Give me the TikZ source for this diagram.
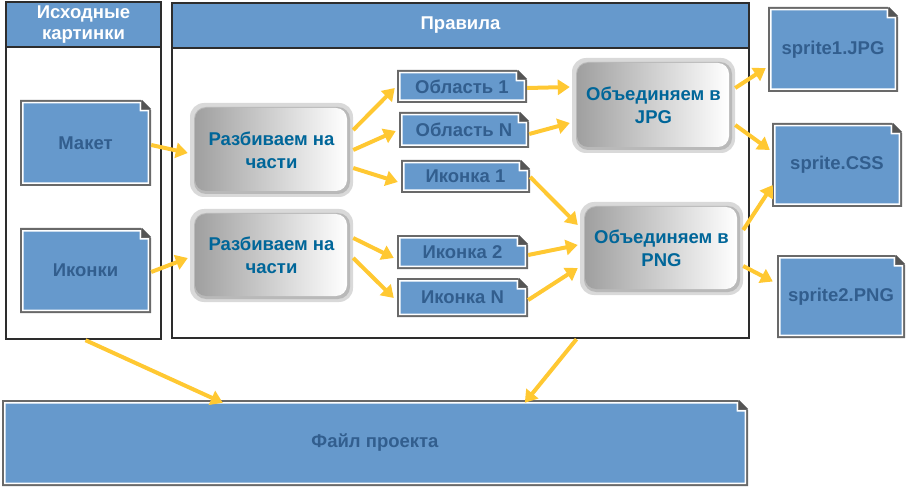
\documentclass[tikz,border=0pt]{standalone}
\usepackage{fontspec}
\setmainfont{Liberation Sans}
\usetikzlibrary{calc,arrows.meta}
\definecolor{docblue}{RGB}{102,153,204}
\definecolor{doctxt}{RGB}{50,94,142}
\definecolor{boxtxt}{RGB}{0,102,153}
\definecolor{arrowy}{RGB}{255,200,50}
\definecolor{edgegray}{RGB}{105,105,105}
\definecolor{foldgray}{RGB}{85,85,85}
\definecolor{framec}{RGB}{45,45,45}
\tikzset{
  doclabel/.style={inner sep=0pt, font=\fontsize{18.5}{22}\selectfont\bfseries, text=doctxt, align=center},
  boxlabel/.style={inner sep=0pt, font=\fontsize{18.5}{23}\selectfont\bfseries, text=boxtxt, align=center},
  headlabel/.style={inner sep=0pt, font=\fontsize{18.5}{21}\selectfont\bfseries, text=white, align=center},
  framelabel/.style={inner sep=0pt},
  arr/.style={draw=arrowy, line width=4pt, -{Triangle[width=15pt,length=12pt]}},
}
\newcommand\docbox[6]{%
  \fill[edgegray] (#2,#3) -- ({#4-10},#3) -- (#4,{#3+10}) -- (#4,#5) -- (#2,#5) -- cycle;
  \fill[white] ({#2+2},{#3+2}) -- ({#4-10},{#3+2}) -- ({#4-10},{#3+10}) -- ({#4-2},{#3+10}) -- ({#4-2},{#5-2}) -- ({#2+2},{#5-2}) -- cycle;
  \fill[docblue] ({#2+3.5},{#3+3.5}) -- ({#4-11.5},{#3+3.5}) -- ({#4-11.5},{#3+11.5}) -- ({#4-3.5},{#3+11.5}) -- ({#4-3.5},{#5-3.5}) -- ({#2+3.5},{#5-3.5}) -- cycle;
  \fill[foldgray] ({#4-9},#3) -- (#4,{#3+9}) -- ({#4-9},{#3+9}) -- cycle;
  \node[doclabel, minimum width={(#4-#2)*1pt}, minimum height={(#5-#3)*1pt}] (#1) at ({(#2+#4)/2},{(#3+#5)/2}) {#6};
}
\newcommand\gradbox[6]{%
  \fill[gray!30, rounded corners=14pt] (#2,#3) rectangle (#4,#5);
  \fill[gray!55, rounded corners=12pt] ({#2+4},{#3+4}) rectangle ({#4-3},{#5-3});
  \shade[left color=gray!75, right color=white, rounded corners=11pt] ({#2+5},{#3+5}) rectangle ({#4-6},{#5-6});
  \node[boxlabel, minimum width={(#4-#2)*1pt}, minimum height={(#5-#3)*1pt}] (#1) at ({(#2+#4)/2},{(#3+#5)/2}) {#6};
}
\begin{document}
\begin{tikzpicture}[x=1pt,y=-1pt]
\useasboundingbox (0,0) rectangle (910,489);
% containers
\fill[docblue] (6,2) rectangle (161,47);
\draw[framec, line width=2pt] (6,2) rectangle (161,339);
\draw[framec, line width=2pt] (6,47) -- (161,47);
\node[framelabel, minimum width=155pt, minimum height=337pt] (L) at (83.5,170.5) {};
\node[headlabel] (Lh) at (83.5,25) {Исходные\\картинки};
\fill[docblue] (172,3) rectangle (749,48);
\draw[framec, line width=2pt] (172,3) rectangle (749,338);
\draw[framec, line width=2pt] (172,48) -- (749,48);
\node[framelabel, minimum width=577pt, minimum height=335pt] (R) at (460.5,170.5) {};
\node[headlabel] (Rh) at (460.5,25) {Правила};
% documents
\docbox{m}{20}{100}{151}{186}{Макет}
\docbox{i}{20}{228}{151}{313}{Иконки}
\docbox{a1}{397}{70}{527}{103}{Область 1}
\docbox{aN}{399}{112}{529}{148}{Область N}
\docbox{k1}{401}{160}{530}{193}{Иконка 1}
\docbox{k2}{397}{235}{528}{269}{Иконка 2}
\docbox{kN}{397}{278}{528}{317}{Иконка N}
\docbox{s1}{768}{7}{898}{92}{sprite1.JPG}
\docbox{css}{772}{123}{902}{207}{sprite.CSS}
\docbox{s2}{777}{255}{905}{338}{sprite2.PNG}
\docbox{f}{2}{400}{748}{486}{Файл проекта}
% process boxes
\gradbox{r1}{190}{103}{353}{197}{Разбиваем на\\части}
\gradbox{r2}{190}{209}{353}{302}{Разбиваем на\\части}
\gradbox{jpg}{572}{58}{735}{153}{Объединяем в\\JPG}
\gradbox{png}{580}{202}{743}{295}{Объединяем в\\PNG}
% arrows
\draw[arr] ($(m.east)+(0,2)$) -- ($(r1.west)+(-2,3)$);
\draw[arr] ($(i.east)+(0,1.5)$) -- ($(r2.west)+(-2,2.5)$);
\draw[arr] ($(r1.east)+(0,-20)$) -- ($(a1.west)+(-2,1.5)$);
\draw[arr] ($(r1.east)+(0,0)$) -- ($(aN.west)+(-3,1)$);
\draw[arr] ($(r1.east)+(0,18)$) -- ($(k1.west)+(-3,5.5)$);
\draw[arr] ($(r2.east)+(0,-17.5)$) -- ($(k2.west)+(-3,6)$);
\draw[arr] ($(r2.east)+(0,2.5)$) -- ($(kN.west)+(-3,0.5)$);
\draw[arr] ($(a1.east)+(0,1.5)$) -- ($(jpg.west)+(-2,-18.5)$);
\draw[arr] ($(aN.east)+(0,4)$) -- ($(jpg.west)+(-2,17.5)$);
\draw[arr] ($(k1.east)+(0,0.5)$) -- ($(png.west)+(-2,-23.5)$);
\draw[arr] ($(k2.east)+(0,3)$) -- ($(png.west)+(-2,-3.5)$);
\draw[arr] ($(kN.east)+(0,2.5)$) -- ($(png.west)+(-2,19.5)$);
\draw[arr] ($(jpg.east)+(0,-17.5)$) -- ($(s1.west)+(-2,18.5)$);
\draw[arr] ($(jpg.east)+(0,19.5)$) -- ($(css.west)+(-2,-15)$);
\draw[arr] ($(png.east)+(0,-18.5)$) -- ($(css.west)+(1,20)$);
\draw[arr] ($(png.east)+(0,17.5)$) -- ($(s2.west)+(-4,-15)$);
\draw[arr] ($(L.south)+(2,1)$) -- ($(f.north west)+(221,3)$);
\draw[arr] ($(R.south)+(116,1)$) -- ($(f.north west)+(523,3)$);
\end{tikzpicture}
\end{document}
